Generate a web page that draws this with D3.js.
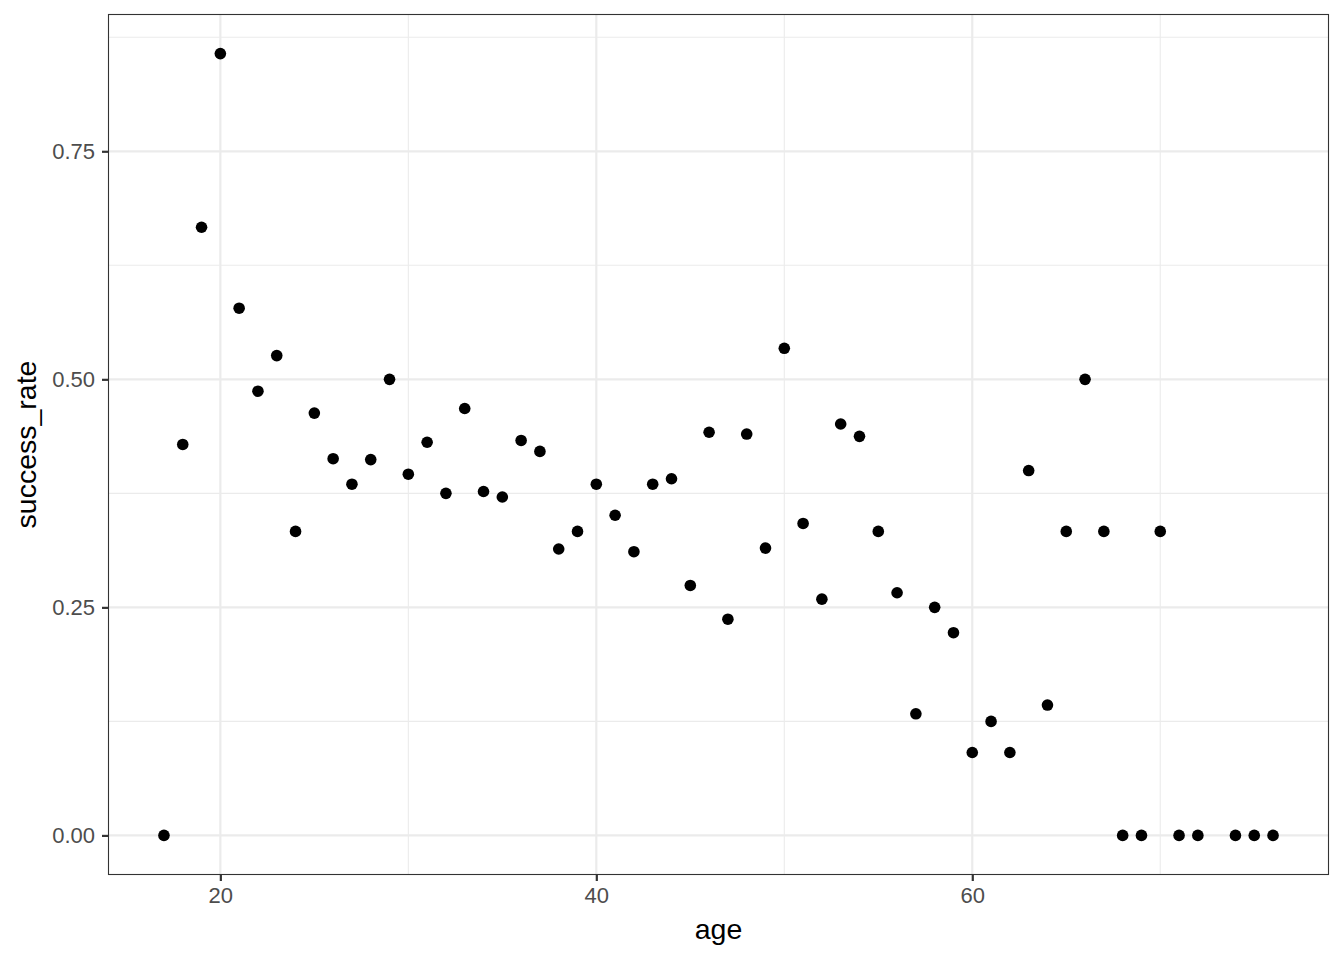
<!DOCTYPE html>
<html><head><meta charset="utf-8">
<script src="https://cdn.jsdelivr.net/npm/d3@7"></script>
<style>body{margin:0;background:#fff}</style>
</head><body>
<script>
const ages = [17,18,19,20,21,22,23,24,25,26,27,28,29,30,31,32,33,34,35,36,37,38,39,40,41,42,43,44,45,46,47,48,49,50,51,52,53,54,55,56,57,58,59,60,61,62,63,64,65,66,67,68,69,70,71,72,74,75,76];
const successRate = [0,0.4286,0.6667,0.8571,0.578,0.487,0.526,0.3333,0.463,0.413,0.385,0.412,0.5,0.396,0.431,0.375,0.468,0.377,0.371,0.433,0.421,0.314,0.3333,0.385,0.351,0.311,0.385,0.391,0.274,0.442,0.237,0.44,0.315,0.534,0.342,0.259,0.451,0.4375,0.3333,0.266,0.1333,0.25,0.2222,0.0909,0.125,0.0909,0.4,0.1429,0.3333,0.5,0.3333,0,0,0.3333,0,0,0,0,0];
const xTicks = [20,40,60];
const yTicks = [0,0.25,0.5,0.75];
const yMinor = [0.125,0.375,0.625,0.875];
const xMinor = [30,50,70];

const W=1344,H=960;
const m={l:108.5,r:1328.5,t:14.5,b:874.5};
const FONT="'Liberation Sans',Arial,Helvetica,sans-serif";
const svg=d3.select("body").append("svg").attr("width",W).attr("height",H);
const xmin=d3.min(ages),xmax=d3.max(ages),xr=xmax-xmin;
const ymax=d3.max(successRate),yr=ymax;
const x=d3.scaleLinear().domain([xmin-0.05*xr,xmax+0.05*xr]).range([m.l,m.r]);
const y=d3.scaleLinear().domain([-0.05*yr,ymax+0.05*yr]).range([m.b,m.t]);

const g=svg.append("g");
g.append("rect").attr("x",m.l).attr("y",m.t).attr("width",m.r-m.l).attr("height",m.b-m.t).attr("fill","#fff");
g.selectAll(".ym").data(yMinor.filter(v=>y(v)>m.t)).join("line").attr("x1",m.l).attr("x2",m.r).attr("y1",d=>y(d)).attr("y2",d=>y(d)).attr("stroke","#EBEBEB").attr("stroke-width",1.1);
g.selectAll(".xm").data(xMinor).join("line").attr("y1",m.t).attr("y2",m.b).attr("x1",d=>x(d)).attr("x2",d=>x(d)).attr("stroke","#EBEBEB").attr("stroke-width",1.1);
g.selectAll(".yM").data(yTicks).join("line").attr("x1",m.l).attr("x2",m.r).attr("y1",d=>y(d)).attr("y2",d=>y(d)).attr("stroke","#EBEBEB").attr("stroke-width",2.2);
g.selectAll(".xM").data(xTicks).join("line").attr("y1",m.t).attr("y2",m.b).attr("x1",d=>x(d)).attr("x2",d=>x(d)).attr("stroke","#EBEBEB").attr("stroke-width",2.2);

g.selectAll("circle").data(ages.map((a,i)=>[a,successRate[i]])).join("circle")
 .attr("cx",d=>x(d[0])).attr("cy",d=>y(d[1])).attr("r",5.8).attr("fill","#000");

g.append("rect").attr("x",m.l).attr("y",m.t).attr("width",m.r-m.l).attr("height",m.b-m.t).attr("fill","none").attr("stroke","#333").attr("stroke-width",1.1);

const xa=svg.append("g").attr("transform",`translate(0,${m.b})`)
 .call(d3.axisBottom(x).tickValues(xTicks).tickSize(6.5).tickPadding(6).tickFormat(d3.format("d")));
const ya=svg.append("g").attr("transform",`translate(${m.l},0)`)
 .call(d3.axisLeft(y).tickValues(yTicks).tickSize(6.5).tickPadding(7).tickFormat(d3.format(".2f")));
[xa,ya].forEach(a=>{a.select(".domain").remove();
 a.selectAll(".tick line").attr("stroke","#333").attr("stroke-width",2.2);
 a.selectAll(".tick text").attr("fill","#4D4D4D").style("font-family",FONT).style("font-size","22px");});

svg.append("text").attr("x",(m.l+m.r)/2).attr("y",939).attr("text-anchor","middle")
 .style("font-family",FONT).style("font-size","28.5px").attr("fill","#000").text("age");
svg.append("text").attr("transform",`translate(36,${(m.t+m.b)/2}) rotate(-90)`).attr("text-anchor","middle")
 .style("font-family",FONT).style("font-size","28.5px").attr("fill","#000").text("success_rate");
</script>
</body></html>
